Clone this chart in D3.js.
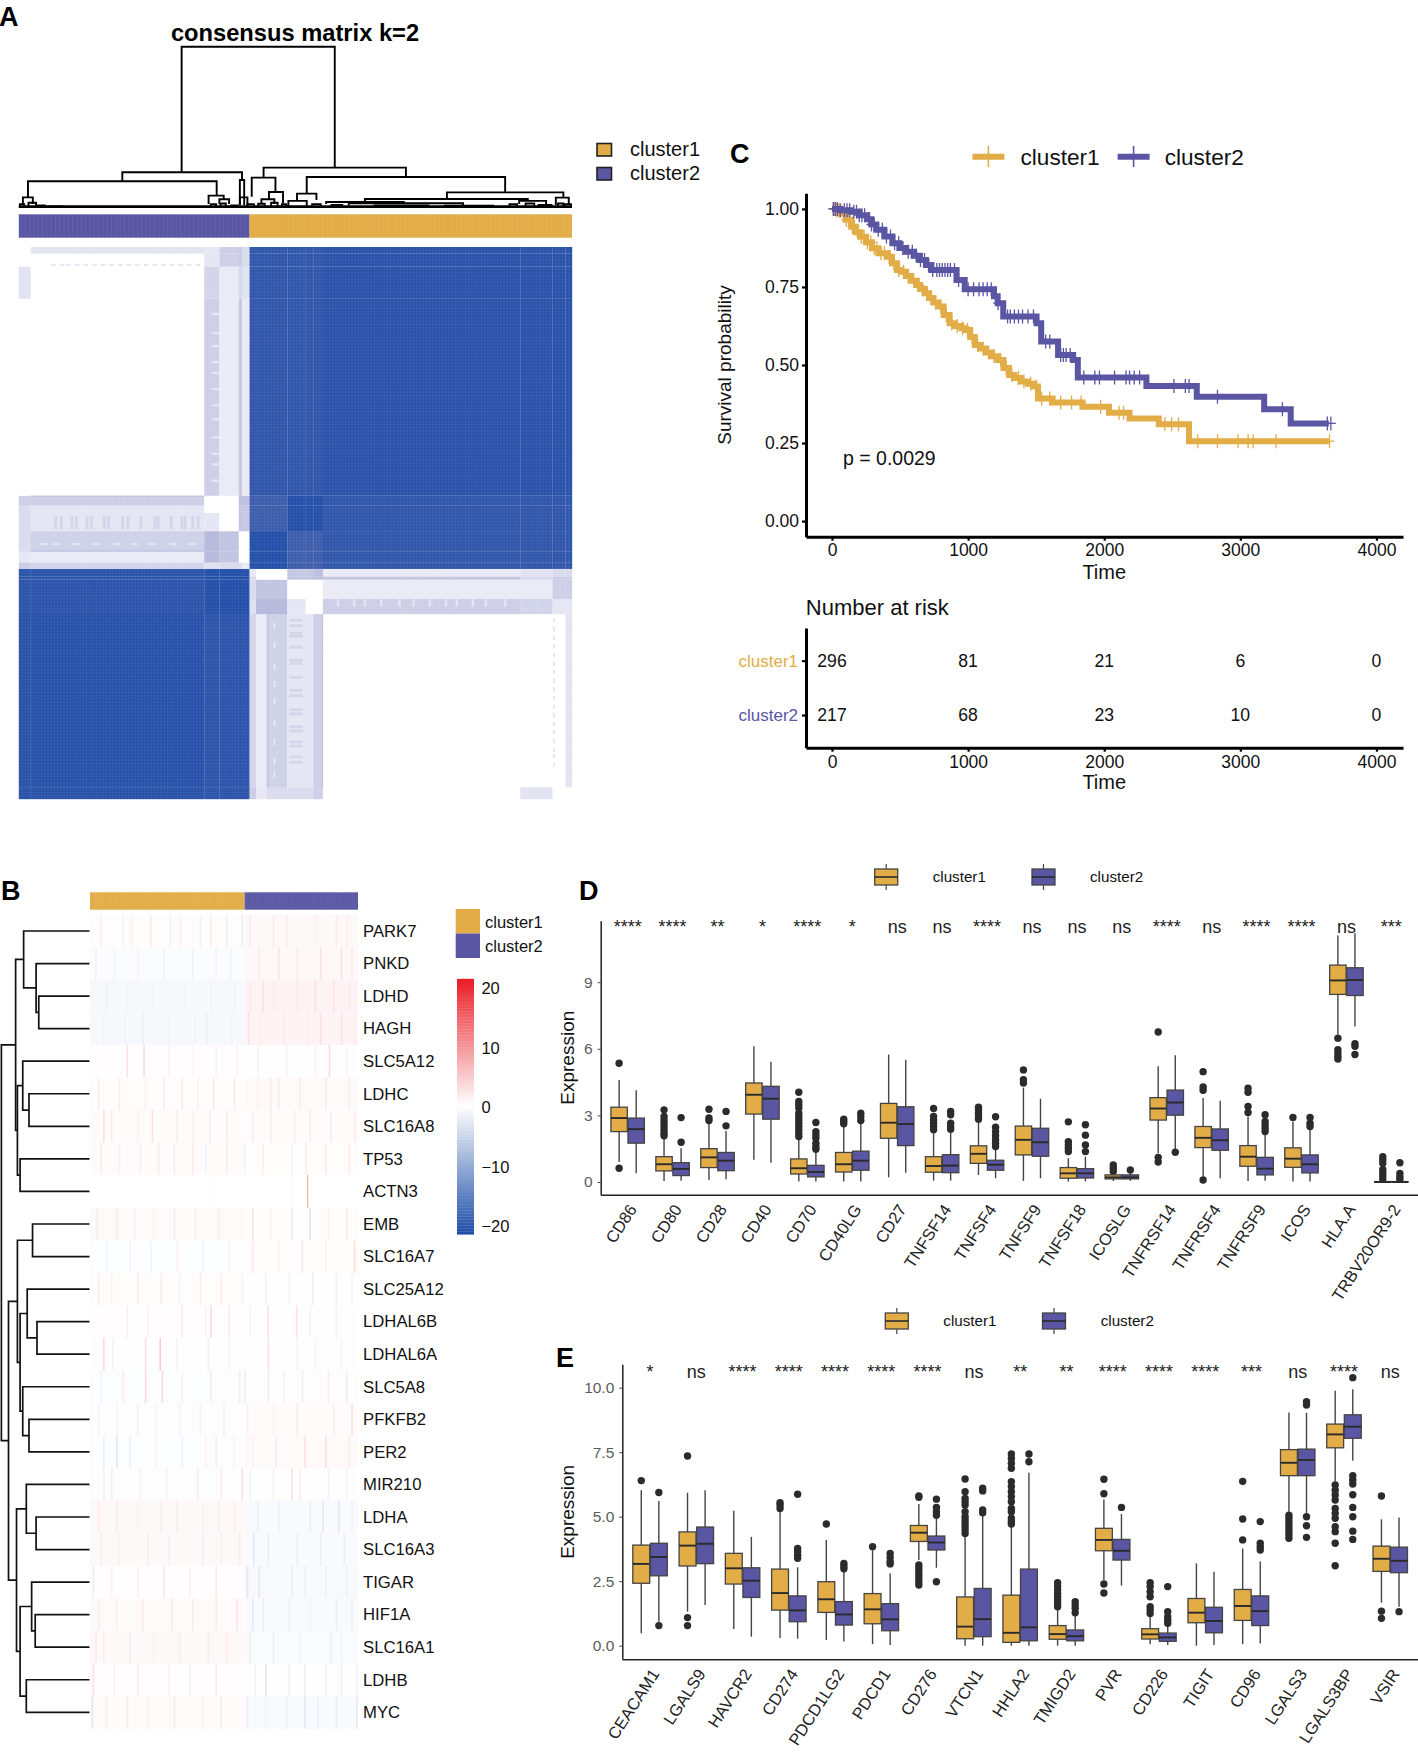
<!DOCTYPE html>
<html><head><meta charset="utf-8">
<script src="https://cdn.jsdelivr.net/npm/d3@7/dist/d3.min.js"></script>
<style>
html,body{margin:0;padding:0;background:#fff}
svg{display:block;font-family:"Liberation Sans",Arial,sans-serif}
</style></head><body><svg id="c" width="1418" height="1752"></svg>
<script>
// ---------- shared
const clusters=["cluster1","cluster2"];
const nSamples=513;
// ---------- panel A: consensus matrix (symmetric, in sample order)
const breaksLow=[0,11,172,186,204,207,214];
const breaksHigh=[214,220,230,249,266,273,282,465,495,507,513];
// consensus between low groups (rows) and high groups (columns)
const consensusCross=[
 [.30,.12,.20,.20,.20,.28,0,.15,0,0],
 [.24,.10,.27,.13,.13,.28,0,0,0,.14],
 [.16,.42,.42,.12,0,0,.28,.25,.12,.12],
 [.20,.35,.35,0,0,0,.10,.10,.28,.28],
 [.20,0,0,.35,.35,.38,.33,.22,.30,.30],
 [.10,0,0,.33,.33,.38,.10,.15,.20,.20]];
const lowClass=[0,0,1,1,1,1];
const highClass=[0,0,0,1,1,1,2,2,2,2];
const lowLevels=[[.97,.94],[.94,1]];
const highLevels=[[1,.8,.9],[.8,1,.9],[.9,.9,.95]];
// mottled details: low from, low to, high from, high to, consensus
const consensusDetail=[
 ...[33,38,48,52,62,66,78,82,95,100,112,125,128,140,150,153,160,165].map(s=>[s,s+2.4,251,263,.25]),
 ...[295,310,320,335,352,365,380,395,405,420,432,450].map(s=>[179,186,s,s+2,.13]),
 ...[30,38,44,52,60,68,76,84,92,100,108,116,124,132,140,148,156,164].map(s=>[s,s+4,495.5,497,.14]),
 ...[20,32,50,68,88,104,120,140,158].map(s=>[s,s+6,236,238,.14]),
 [11,172,230,231.5,.34],[11,172,281,282,.36]];
// dendrogram merges: left sample, right sample, merge height, left child height, right child height
const dendroMerges=[
 [151,293,1,.218,.247],[96,207,.218,.162,.17],[8.5,183.5,.162,.062,.073],[3.8,13,.062,.02,.02],
 [176,190,.073,.02,.05],[186,195,.05,.02,.02],[205,209,.17,.015,.015],[205,212,.062,.015,.015],
 [227,359,.247,.185,.189],[216,238,.185,.066,.095],[232,245,.095,.05,.025],[225,237,.05,.02,.02],
 [267,451,.189,.085,.093],[258,276,.085,.04,.046],[250,267,.04,.004,.004],[397,505,.093,.052,.06],
 [321,472,.052,.033,.04],[285,357,.033,.02,.02],[306,412,.025,.012,.012],[464,489,.04,.02,.02],
 [498,510,.06,.015,.015],[1,5,.02,0,0],[9,16,.028,0,0],[17,24,.012,0,0],[26,40,.006,0,0],
 [178,183,.02,0,0],[187,192,.024,0,0],[197,203,.012,0,0],[212,218,.02,0,0],[222,228,.022,0,0],
 [234,240,.028,0,0],[244,248,.02,0,0],[272,280,.02,0,0],[290,300,.015,0,0],[330,380,.012,0,0],
 [395,440,.01,0,0],[455,462,.02,0,0],[470,478,.024,0,0],[482,494,.014,0,0],[500,505,.024,0,0],[506,512,.02,0,0]];
// ---------- panel B: gene heat map
const genes=["PARK7","PNKD","LDHD","HAGH","SLC5A12","LDHC","SLC16A8","TP53","ACTN3","EMB","SLC16A7","SLC25A12","LDHAL6B","LDHAL6A","SLC5A8","PFKFB2","PER2","MIR210","LDHA","SLC16A3","TIGAR","HIF1A","SLC16A1","LDHB","MYC"];
const geneBase=[[.3,.6],[-.4,.7],[-.9,1.1],[-.8,1],[.2,-.1],[.3,.5],[.4,.4],[.4,.3],[0,0],[.5,.3],[-.3,.3],[.3,-.1],[.2,.1],[.1,.1],[-.3,-.2],[-.2,.4],[-.3,.5],[-.2,.1],[.6,-.6],[.6,-.6],[.2,-.7],[.5,-.6],[.6,-.5],[.2,-.1],[.4,-.6]];
const geneStripes=[
 [[20,1.4],[62,-1.4],[78,1.4],[115,2],[152,-1.4],[172,1.4],[210,-1.4],[230,2],[260,-2],[290,-2],[305,2],[350,2],[375,2],[430,1.4],[470,2],[490,1.4]],
 [[10,1.7],[45,-1.4],[90,1.4],[140,-1.4],[195,-1.4],[240,1.4],[268,-1.4],[322,2],[360,2.8],[395,2],[440,2.8],[480,2.8],[500,2]],
 [[30,-1.7],[70,-1.4],[120,-1.4],[180,-1.4],[230,-1.4],[275,-1.4],[305,2],[330,2.8],[350,2],[395,2],[430,2.8],[465,2.8],[495,2]],
 [[25,-1.4],[65,-1.4],[100,-2],[150,-1.4],[200,-1.4],[222,-2],[270,-1.4],[302,2.8],[325,2],[370,2],[415,2],[440,2.8],[480,2.8],[505,2]],
 [[70,2.8],[102,3.5],[150,1.4],[195,1],[240,1.4],[280,1.4],[320,1.4],[375,1.4],[430,1.4],[457,3.5],[490,1]],
 [[15,2],[55,2],[105,1.4],[140,2],[175,2],[205,1.4],[235,2],[275,2],[320,1.4],[345,2],[360,2],[400,2],[450,2],[495,2]],
 [[25,2.8],[40,2],[90,1.4],[118,2.8],[165,2],[195,1.4],[228,2],[260,2],[310,2],[345,2],[390,2],[420,2],[460,2],[505,2]],
 [[20,2],[55,-1.4],[95,-1.4],[130,2],[160,-2],[195,2],[220,-1.4],[260,2],[295,-1.4],[330,1.4],[385,-1.4],[412,2],[450,2],[495,2]],
 [[416,13],[385,.5],[230,.4]],
 [[12,2],[50,2],[85,-1.4],[120,1.4],[160,2],[200,1.4],[245,2],[310,2.8],[345,1.4],[385,-2],[420,-2.8],[455,1.4],[490,2]],
 [[30,-1.4],[75,1.4],[115,-1.4],[165,1.4],[215,-1.4],[265,1.4],[310,2],[360,1.4],[405,2],[450,1.4],[505,2.8]],
 [[15,2],[40,1.4],[90,2],[135,2],[170,-1.4],[210,2],[250,2],[290,1.4],[335,1.4],[380,-1.4],[425,-2],[470,-1.4],[500,1.4]],
 [[70,2],[110,1.4],[175,2],[220,1.4],[230,3.5],[265,2],[305,1.4],[339,2.8],[394,2.8],[420,1.4],[470,1.4]],
 [[25,3.5],[42,1.4],[105,2.8],[133,5],[165,1.4],[225,2],[265,1.4],[340,2.8],[395,1.4],[480,1.4],[430,1.4]],
 [[20,-1.4],[62,2],[105,3.5],[137,3.5],[175,1.4],[230,2],[285,2],[295,-2],[340,2],[370,-1.4],[405,2],[455,2],[490,-2]],
 [[15,-1.4],[50,1.4],[90,-1.4],[125,1.4],[170,-1.4],[210,1.4],[255,2],[300,-1.4],[350,1.4],[395,2],[465,2],[500,2.8]],
 [[25,-2],[50,-2.8],[75,-2],[125,1.4],[175,-1.4],[220,1.4],[240,2],[275,1.4],[310,-1.4],[355,2],[410,2.8],[450,2.8],[495,2]],
 [[25,-1.4],[40,2],[95,1.4],[145,-1.4],[205,2],[250,2],[290,2.8],[305,-1.4],[350,1.4],[385,2.8],[400,2],[455,-1.4],[490,-1.4]],
 [[15,2],[50,2],[90,1.4],[135,2],[165,2],[215,1.4],[245,2],[275,2],[320,-2],[360,-1.4],[420,-2],[445,-2.8],[475,-2.8],[500,-1.4]],
 [[20,2],[55,1.4],[110,2],[150,-1.4],[215,-2],[250,1.4],[285,2],[312,-2.8],[340,-2],[395,-2],[440,-2],[485,-2]],
 [[5,-2],[40,1.4],[90,1.4],[140,2],[190,1.4],[240,2],[300,-2.8],[322,-2.8],[385,-2],[410,-2],[450,-2],[490,-2]],
 [[15,2],[50,1.4],[100,2],[155,2],[195,2],[240,2],[280,2.8],[310,-2.8],[330,-2],[380,-2],[420,-1.4],[470,-2],[500,-2]],
 [[10,2],[25,2],[75,2],[120,1.4],[170,2],[225,2],[260,2],[305,-2],[350,-2],[400,-1.4],[460,-2],[480,-1.4]],
 [[5,2.8],[45,1.4],[90,2],[150,1.4],[190,-1.4],[240,2],[315,-1.4],[335,-2.8],[380,-2],[410,-2],[450,-1.4],[480,2],[510,-1.4]],
 [[3,-2.8],[30,2],[70,2],[110,1.4],[160,2],[215,1.4],[250,2],[300,-2],[335,-1.4],[375,-2],[410,-2.8],[435,-2],[470,-2],[510,-2.8]]];
// nested clustering: [height, left, right]
const geneTree=[.99,
 [.83,
  [.74,"PARK7",[.6,"PNKD",[.57,"LDHD","HAGH"]]],
  [.81,
   [.75,"SLC5A12",[.68,"LDHC","SLC16A8"]],
   [.78,"TP53","ACTN3"]]],
 [.91,
  [.81,
   [.64,"EMB","SLC16A7"],
   [.78,
    [.7,"SLC25A12",[.59,"LDHAL6B","LDHAL6A"]],
    [.75,"SLC5A8",[.68,"PFKFB2","PER2"]]]],
  [.82,
   [.71,"MIR210",[.6,"LDHA","SLC16A3"]],
   [.78,
    [.65,"TIGAR",[.61,"HIF1A","SLC16A1"]],
    [.71,"LDHB","MYC"]]]]];
const legendTicksB=[20,10,0,-10,-20];
// ---------- panel C: survival
const timeC1=[0,30,74,100,141,175,209,250,293,340,410,440,478,510,545,580,620,646,680,713,745,780,820,864,900,950,982,1015,1049,1090,1130,1175,1217,1260,1301,1340,1386,1440,1486,1513,1621,1840,2035,2186,2401,2623,3650];
const survC1=[1,.995,.986,.965,.943,.925,.911,.893,.874,.858,.847,.826,.804,.799,.785,.77,.756,.744,.73,.715,.70,.687,.66,.634,.625,.618,.612,.59,.564,.553,.54,.528,.516,.49,.468,.458,.447,.44,.431,.393,.38,.366,.347,.329,.31,.256,.256];
const timeC2=[0,60,141,200,259,290,326,385,444,495,545,600,646,690,730,881,915,975,1150,1190,1217,1258,1419,1503,1537,1638,1661,1772,1806,2310,2680,3175,3370,3650];
const survC2=[1,.996,.991,.98,.967,.95,.933,.912,.89,.875,.863,.85,.836,.82,.804,.804,.772,.743,.743,.72,.698,.655,.655,.634,.575,.575,.532,.516,.46,.433,.398,.358,.313,.313];
const censorC1=[10,20,35,50,65,85,105,125,150,165,190,215,235,260,285,310,330,360,385,420,455,490,525,560,600,640,665,700,730,760,800,840,880,920,960,995,1030,1070,1110,1150,1190,1240,1280,1320,1370,1410,1460,1500,1540,1600,1680,1760,1830,1974,2109,2142,2445,2495,2546,2687,2832,2983,3057,3094,3262,3655];
const censorC2=[10,25,40,60,90,110,130,160,180,200,220,240,270,290,310,340,370,400,430,460,490,520,560,590,620,650,680,710,740,770,790,810,830,850,870,900,930,1000,1040,1080,1110,1140,1170,1220,1290,1310,1340,1370,1400,1440,1480,1570,1600,1680,1700,1720,1750,1850,1931,1965,2076,2160,2186,2220,2260,2512,2596,2623,2832,3309,3639,3665];
const riskTimes=[0,1000,2000,3000,4000];
const riskC1=[296,81,21,6,0];
const riskC2=[217,68,23,10,0];
// ---------- panel D: box stats [low whisker, q1, median, q3, high whisker, outliers]
const catsD=["CD86","CD80","CD28","CD40","CD70","CD40LG","CD27","TNFSF14","TNFSF4","TNFSF9","TNFSF18","ICOSLG","TNFRSF14","TNFRSF4","TNFRSF9","ICOS","HLA.A","TRBV20OR9-2"];
const sigD=["****","****","**","*","****","*","ns","ns","****","ns","ns","ns","****","ns","****","****","ns","***"];
const boxD1=[
 [.9,2.27,2.88,3.37,4.6,[5.35,.62]],
 [.05,.5,.8,1.14,2.05,[3.25,2.95,2.8,2.65,2.5,2.35,2.2,2.08]],
 [.09,.65,1.11,1.5,2.65,[3.28,2.88,2.77]],
 [1,3.06,3.93,4.46,6.11,[]],
 [.02,.36,.62,1.04,1.93,[4.04,3.63,3.48,3.33,3.1,2.95,2.8,2.65,2.5,2.35,2.2,2.05]],
 [.02,.45,.8,1.33,2.58,[2.83,2.73,2.62]],
 [.21,1.97,2.67,3.54,5.74,[]],
 [.06,.44,.72,1.14,2.2,[3.31,2.95,2.8,2.65,2.5,2.35]],
 [.32,.84,1.27,1.63,2.73,[3.37,3.25,3.1,2.95,2.83]],
 [.05,1.22,1.9,2.52,4.25,[5.05,4.61,4.46]],
 [.02,.17,.39,.65,1.07,[2.71,1.82,1.67,1.52,1.37]],
 [.05,.14,.21,.32,.42,[.77,.62,.47]],
 [1.3,2.79,3.31,3.8,5.21,[6.76,1.11,.9]],
 [.24,1.55,1.99,2.5,3.78,[4.97,4.28,4.13,.09]],
 [.05,.71,1.14,1.64,2.95,[4.22,4.04,3.4,3.13]],
 [.02,.66,1.05,1.54,2.73,[2.91]],
 [6.64,8.45,9.08,9.77,11.1,[6.48,5.96,5.81,5.66,5.54]],
 [0,0,0,.02,.02,[1.14,1,.85,.57,.42,.27,.12]]];
const boxD2=[
 [.39,1.75,2.38,2.88,4.13,[]],
 [.06,.29,.59,.87,1.52,[2.9,1.79]],
 [.12,.51,.96,1.33,2.3,[3.18,2.53]],
 [.87,2.83,3.75,4.31,5.42,[]],
 [.02,.23,.45,.75,1.37,[2.68,2.27,2.12,1.97,1.75,1.6,1.48]],
 [.02,.53,.96,1.39,2.62,[3.1,2.95,2.77]],
 [.42,1.64,2.61,3.39,5.51,[]],
 [.06,.42,.74,1.23,2.3,[3.18,3.03,2.65,2.5,2.38]],
 [.17,.53,.78,.98,1.52,[2.94,2.47,2.27,2.08,1.9,1.75,1.6]],
 [.17,1.16,1.79,2.42,3.75,[]],
 [.02,.18,.39,.6,1.14,[2.58,2.11,1.67,1.37]],
 [.05,.14,.21,.32,.4,[.54]],
 [1.45,3.01,3.58,4.14,5.71,[1.34]],
 [.17,1.43,1.88,2.39,3.66,[]],
 [.06,.32,.6,1.11,2.2,[3.03,2.73,2.58,2.42,2.27]],
 [.02,.41,.8,1.22,2.35,[2.91,2.65,2.5]],
 [7,8.4,9.1,9.65,11.2,[6.23,6.11,5.74]],
 [0,0,0,.02,.02,[.87,.39,.24,.12]]];
// ---------- panel E
const catsE=["CEACAM1","LGALS9","HAVCR2","CD274","PDCD1LG2","PDCD1","CD276","VTCN1","HHLA2","TMIGD2","PVR","CD226","TIGIT","CD96","LGALS3","LGALS3BP","VSIR"];
const sigE=["*","ns","****","****","****","****","****","ns","**","**","****","****","****","***","ns","****","ns"];
const boxE1=[
 [.48,2.42,3.17,3.9,6.03,[6.4]],
 [1.32,3.09,3.88,4.41,5.93,[7.35,1.09,.78]],
 [.65,2.39,3,3.58,5.23,[]],
 [.3,1.38,2.04,2.97,5.19,[5.54,5.45,5.32]],
 [.22,1.29,1.8,2.48,4.1,[4.72]],
 [.06,.85,1.41,2.02,3.7,[3.84]],
 [3.32,4.04,4.38,4.66,5.49,[5.8,5.75,3.13,3,2.87,2.74,2.61,2.48,2.35]],
 [0,.27,.74,1.89,4.22,[6.46,5.97,5.71,5.58,5.45,5.19,5,4.87,4.74,4.61,4.48,4.35]],
 [0,.13,.5,1.96,4.61,[7.43,7.26,7.07,6.88,6.36,6.17,5.97,5.78,5.58,5.32,5.19,4.94,4.81,4.72]],
 [0,.25,.45,.78,1.38,[2.44,2.29,2.16,2.03,1.9,1.77,1.64,1.51]],
 [2.55,3.68,4.1,4.55,5.67,[6.45,5.89,2.39,2.04]],
 [.06,.26,.44,.66,1.15,[2.44,2.29,2.09,1.9,1.51,1.38,1.25]],
 [0,.89,1.28,1.83,3.19,[]],
 [.06,.98,1.54,2.18,3.77,[6.37,4.91,4.1]],
 [5.19,6.59,7.09,7.6,9.04,[5.06,4.94,4.81,4.68,4.55,4.42,4.29,4.16]],
 [6.36,7.67,8.19,8.59,9.88,[6.23,6.03,5.84,5.65,5.32,5.13,4.94,4.61,4.42,3.97,3.1]],
 [1.67,2.88,3.37,3.86,4.9,[5.8,1.34,1.06]]];
const boxE2=[
 [.93,2.71,3.44,3.97,5.61,[5.94,.78]],
 [1.58,3.18,3.95,4.6,6.03,[]],
 [.35,1.87,2.52,3.02,4.22,[]],
 [.27,.93,1.37,1.93,3.04,[5.87,3.77,3.64,3.51,3.39]],
 [.16,.8,1.21,1.71,2.93,[3.19,3.09,2.98]],
 [.03,.58,1.02,1.63,2.8,[3.58,3.42,3.26,3.17]],
 [3.02,3.71,4,4.25,5,[5.68,5.36,5.19,5.06,2.48]],
 [0,.35,1.03,2.22,5.06,[6.1,6,5.26,5.15]],
 [0,.19,.71,2.97,6.7,[7.43,7.13]],
 [0,.19,.37,.61,1.15,[1.71,1.58,1.45,1.28]],
 [2.33,3.32,3.68,4.12,5.1,[5.36]],
 [.03,.17,.32,.49,.76,[2.29,1.32,1.12,.99,.87]],
 [.03,.5,.96,1.49,2.87,[]],
 [.09,.78,1.34,1.93,3.26,[4.81,3.97,3.84,3.71]],
 [5.13,6.59,7.2,7.62,9.03,[9.46,9.33,5,4.65,4.2]],
 [7.17,8.04,8.49,8.95,9.94,[10.39,6.59,6.42,6.27,5.85,5.36,5,4.44,4.12]],
 [1.51,2.83,3.29,3.82,4.97,[1.32]]];

// ================= drawing ==================
const C1="#E2AD47",C2="#5A56A3";
const clusterColor=d3.scaleOrdinal(clusters,[C1,C2]);
const svg=d3.select("#c");
const txt=(g,s,x,y,size,o={})=>g.append("text").attr("x",x).attr("y",y).attr("font-size",size)
  .attr("fill",o.fill||"#111").attr("text-anchor",o.anchor||"start").attr("font-weight",o.bold?"bold":null)
  .attr("transform",o.rot?`rotate(${o.rot},${x},${y})`:null).text(s);
[["A",-1,26],["B",1,900],["C",730,163],["D",579,900],["E",556,1367]].forEach(d=>txt(svg,d[0],d[1],d[2],27,{bold:true,fill:"#000"}));

// ---- A
(function(){
 const g=svg.append("g");
 const x=d3.scaleLinear([0,nSamples],[18.8,572]);
 const y=d3.scaleLinear([0,nSamples],[799,247]);
 const col=d3.scaleLinear([0,.12,.33,.5,.8,1],["#ffffff","#e6e7f4","#c6c8e3","#a7abd4","#3d5cac","#234fa9"]);
 const groups=[];
 for(let i=0;i<breaksLow.length-1;i++)groups.push([breaksLow[i],breaksLow[i+1]]);
 for(let i=0;i<breaksHigh.length-1;i++)groups.push([breaksHigh[i],breaksHigh[i+1]]);
 const nl=breaksLow.length-1;
 const val=(i,j)=> i<nl&&j<nl?lowLevels[lowClass[i]][lowClass[j]]: i>=nl&&j>=nl?highLevels[highClass[i-nl]][highClass[j-nl]]: i<nl?consensusCross[i][j-nl]:consensusCross[j][i-nl];
 const cells=[];
 groups.forEach((a,i)=>groups.forEach((b,j)=>cells.push({a,b,v:val(i,j)})));
 consensusDetail.forEach(d=>{
  cells.push({a:[d[0],d[1]],b:[d[2],d[3]],v:d[4]});
  cells.push({a:[d[2],d[3]],b:[d[0],d[1]],v:d[4]});
 });
 g.selectAll("rect.c").data(cells).join("rect")
  .attr("x",d=>x(d.b[0])).attr("width",d=>x(d.b[1])-x(d.b[0])+.2)
  .attr("y",d=>y(d.a[1])).attr("height",d=>y(d.a[0])-y(d.a[1])+.2)
  .attr("fill",d=>col(d.v));
 // fine cell mesh of the matrix
 const mesh=d3.range(0,nSamples,3);
 g.selectAll("line.v").data(mesh).join("line").attr("x1",d=>x(d)).attr("x2",d=>x(d)).attr("y1",y(0)).attr("y2",y(nSamples))
  .attr("stroke","#fff").attr("stroke-opacity",.07).attr("stroke-width",.8);
 g.selectAll("line.h").data(mesh).join("line").attr("y1",d=>y(d)).attr("y2",d=>y(d)).attr("x1",x(0)).attr("x2",x(nSamples))
  .attr("stroke","#fff").attr("stroke-opacity",.07).attr("stroke-width",.8);
 // annotation
 const ann=[[0,214,"cluster2"],[214,nSamples,"cluster1"]];
 g.selectAll("rect.a").data(ann).join("rect").attr("x",d=>x(d[0])).attr("width",d=>x(d[1])-x(d[0])).attr("y",214.3).attr("height",23.4).attr("fill",d=>clusterColor(d[2]));
 g.selectAll("line.am").data(d3.range(2,nSamples,4)).join("line").attr("x1",d=>x(d)).attr("x2",d=>x(d)).attr("y1",214.3).attr("y2",237.7).attr("stroke","#fff").attr("stroke-opacity",.07).attr("stroke-width",1);
 // dendrogram
 const h=d3.scaleLinear([0,1],[207.3,46.7]);
 g.selectAll("path.d").data(dendroMerges).join("path").attr("fill","none").attr("stroke","#000").attr("stroke-width",1.9)
  .attr("d",d=>`M${x(d[0])},${h(d[3])}V${h(d[2])}H${x(d[1])}V${h(d[4])}`);
 g.append("line").attr("x1",x(0)).attr("x2",x(nSamples)).attr("y1",h(.004)).attr("y2",h(.004)).attr("stroke","#000").attr("stroke-width",2.8);
 txt(g,"consensus matrix k=2",295,41,23.7,{bold:true,anchor:"middle",fill:"#000"});
 clusters.forEach((c,i)=>{
  g.append("rect").attr("x",597).attr("y",143.5+i*24).attr("width",14.5).attr("height",12.5).attr("fill",clusterColor(c)).attr("stroke","#222").attr("stroke-width",1.6);
  txt(g,c,630,156+i*24,20);
 });
})();

// ---- B
(function(){
 const g=svg.append("g");
 const x=d3.scaleLinear([0,nSamples],[90,358]);
 const y=d3.scaleBand(genes,[914.7,1728.6]);
 const col=d3.scaleLinear([-21.4,0,21.4],["#1f4fa9","#ffffff","#ea1c24"]);
 genes.forEach((n,r)=>{
  const gr=g.append("g");
  const segs=[[0,296,geneBase[r][0]],[296,nSamples,geneBase[r][1]]];
  gr.selectAll("rect.b").data(segs).join("rect").attr("x",d=>x(d[0])).attr("width",d=>x(d[1])-x(d[0])).attr("y",y(n)).attr("height",y.bandwidth()+.2).attr("fill",d=>col(d[2]));
  gr.selectAll("rect.s").data(geneStripes[r]).join("rect").attr("x",d=>x(d[0])).attr("width",d=>n==="ACTN3"&&d[1]>5?.8:x(3)-x(0)).attr("y",y(n)).attr("height",y.bandwidth()+.2).attr("fill",d=>n==="ACTN3"&&d[1]>5?"#ee8a5a":col(d[1]));
  txt(g,n,363,y(n)+y.bandwidth()/2+5.8,16.7,{fill:"#111"});
 });
 const ann=[[0,296,"cluster1"],[296,nSamples,"cluster2"]];
 g.selectAll("rect.a").data(ann).join("rect").attr("x",d=>x(d[0])).attr("width",d=>x(d[1])-x(d[0])).attr("y",892.3).attr("height",17.4).attr("fill",d=>clusterColor(d[2]));
 g.selectAll("line.am").data(d3.range(2,nSamples,4)).join("line").attr("x1",d=>x(d)).attr("x2",d=>x(d)).attr("y1",892.3).attr("y2",909.7).attr("stroke","#fff").attr("stroke-opacity",.07).attr("stroke-width",1);
 // dendrogram
 const parse=a=>typeof a==="string"?{name:a}:{h:a[0],children:[parse(a[1]),parse(a[2])]};
 const root=d3.hierarchy(parse(geneTree));
 const dx=d3.scaleLinear([0,1],[89.5,.5]);
 const cy=y.bandwidth()/2;
 root.eachAfter(n=>{ if(n.children){n.py=d3.mean(n.children,c=>c.py);n.ph=n.data.h;} else {n.py=y(n.data.name)+cy;n.ph=0;} });
 g.selectAll("path.t").data(root.descendants().filter(n=>n.children)).join("path").attr("fill","none").attr("stroke","#111").attr("stroke-width",1.7)
  .attr("d",n=>{const [a,b]=n.children;return `M${dx(a.ph)},${a.py}H${dx(n.ph)}V${b.py}H${dx(b.ph)}`;});
 clusters.forEach((c,i)=>{
  g.append("rect").attr("x",455.7).attr("y",909+i*24.5).attr("width",24.3).attr("height",24.5).attr("fill",clusterColor(c));
  txt(g,c,485,927.5+i*24.3,16.5);
 });
 // colour bar
 const v=d3.scaleLinear([-21.4,21.4],[1234.3,980]);
 g.selectAll("rect.l").data(d3.range(-21.4,21.4,.5)).join("rect").attr("x",457).attr("width",17).attr("y",d=>v(d+.5)).attr("height",d=>v(d)-v(d+.5)+.3).attr("fill",d=>col(d));
 g.selectAll("text.l").data(legendTicksB).join("text").attr("x",481.4).attr("y",d=>v(d)+6).attr("font-size",16.5).attr("fill","#111").text(d=>d<0?"\u2212"+(-d):d);
})();

// ---- C
(function(){
 const g=svg.append("g");
 const x=d3.scaleLinear([-191,4195],[806,1403]);
 const y=d3.scaleLinear([-.05,1.05],[536.7,193.3]);
 const style=a=>{a.selectAll("path.domain").attr("stroke","#000").attr("stroke-width",3);a.selectAll("line").attr("stroke","#000").attr("stroke-width",2.2);a.selectAll("text").attr("fill","#111").attr("font-family","Liberation Sans");};
 const ax=g.append("g").attr("transform","translate(0,536.7)").call(d3.axisBottom(x).tickValues(riskTimes).tickFormat(d3.format("d")).tickSize(4).tickPadding(3).tickSizeOuter(0));
 const ay=g.append("g").attr("transform","translate(806,0)").call(d3.axisLeft(y).tickValues([0,.25,.5,.75,1]).tickFormat(d3.format(".2f")).tickSize(4).tickPadding(3).tickSizeOuter(0));
 style(ax);style(ay);ax.selectAll("text").attr("font-size",17.5);ay.selectAll("text").attr("font-size",17.5);
 const series=[[timeC1,survC1,censorC1,C1],[timeC2,survC2,censorC2,C2]];
 series.forEach(([t,s,cn,c])=>{
  const line=d3.line().curve(d3.curveStepAfter).x(d=>x(d[0])).y(d=>y(d[1]));
  g.append("path").attr("fill","none").attr("stroke",c).attr("stroke-width",6).attr("d",line(t.map((d,i)=>[d,s[i]])));
  const at=d=>s[Math.max(0,d3.bisectRight(t,d)-1)];
  g.selectAll(null).data(cn).join("path").attr("transform",d=>`translate(${x(d)},${y(at(d))})`).attr("d","M-5,0H5M0,-7V7").attr("stroke",c).attr("stroke-width",1.3).attr("fill","none");
 });
 txt(g,"Survival probability",731,365,19,{rot:-90,anchor:"middle"});
 txt(g,"Time",x(2000),579,20,{anchor:"middle"});
 txt(g,"p = 0.0029",843,465,19.5);
 [[972.4,1020.5,C1,"cluster1"],[1117.6,1164.7,C2,"cluster2"]].forEach(d=>{
  g.append("line").attr("x1",d[0]).attr("x2",d[0]+32).attr("y1",156.7).attr("y2",156.7).attr("stroke",d[2]).attr("stroke-width",6);
  g.append("line").attr("x1",d[0]+16).attr("x2",d[0]+16).attr("y1",146).attr("y2",167).attr("stroke",d[2]).attr("stroke-width",1.6);
  txt(g,d[3],d[1],164.5,22.6);
 });
 // risk table
 const ry=d3.scalePoint(clusters,[628,747.7]).padding(.6);
 const bx=g.append("g").attr("transform","translate(0,747.7)").call(d3.axisBottom(x).tickValues(riskTimes).tickFormat(d3.format("d")).tickSize(4).tickPadding(4).tickSizeOuter(0));
 const by=g.append("g").attr("transform","translate(806,0)").call(d3.axisLeft(ry).tickSize(4).tickPadding(4).tickSizeOuter(0));
 style(bx);style(by);bx.selectAll("text").attr("font-size",17.5);
 by.selectAll("text").attr("font-size",17).attr("fill",d=>clusterColor(d));
 txt(g,"Number at risk",805.8,615,22);
 txt(g,"Time",x(2000),789,20,{anchor:"middle"});
 [[riskC1,"cluster1"],[riskC2,"cluster2"]].forEach(([v,c])=>{
  g.selectAll(null).data(v).join("text").attr("x",(d,i)=>x(riskTimes[i])).attr("y",ry(c)+6.4).attr("text-anchor","middle").attr("font-size",17.6).attr("fill","#111").text(d=>d);
 });
})();

// ---- D & E
function boxPanel(o){
 const g=svg.append("g");
 const x=d3.scalePoint(o.cats,[o.x0,o.x1]).padding(.6);
 const y=d3.scaleLinear(o.dom,[o.yb,o.yt]);
 const off=x.step()*.19,w=x.step()*.365;
 const ax=g.append("g").attr("transform",`translate(0,${o.yb})`).call(d3.axisBottom(x).tickSize(0).tickFormat("").tickSizeOuter(0));
 const ay=g.append("g").attr("transform",`translate(${o.x0},0)`).call(d3.axisLeft(y).tickValues(o.ticks).tickFormat(o.fmt).tickSize(3).tickPadding(5).tickSizeOuter(0));
 [ax,ay].forEach(a=>{a.selectAll("path.domain").attr("stroke","#222").attr("stroke-width",1.5);a.selectAll("line").attr("stroke","#444");});
 ay.selectAll("text").attr("font-size",15.5).attr("fill","#5c5c5c").attr("font-family","Liberation Sans");
 o.cats.forEach((c,i)=>{
  g.append("text").attr("text-anchor","end").attr("font-size",16.5).attr("fill","#222")
   .attr("transform",`translate(${x(c)+3},${o.yb+10}) rotate(-57)`).attr("dy","0.5em").text(c);
  const s=o.sig[i];
  g.append("text").attr("x",x(c)).attr("y",o.sigY).attr("text-anchor","middle").attr("font-size",18).attr("fill","#222").text(s);
  [[o.s1[i],-off,C1],[o.s2[i],off,C2]].forEach(([b,dx,col])=>{
   const cx=x(c)+dx;
   g.append("line").attr("x1",cx).attr("x2",cx).attr("y1",y(b[0])).attr("y2",y(b[4])).attr("stroke","#444").attr("stroke-width",1.4);
   g.selectAll(null).data(b[5]).join("circle").attr("cx",cx).attr("cy",d=>y(d)).attr("r",3.7).attr("fill","#2b2b2b");
   g.append("rect").attr("x",cx-w/2).attr("width",w).attr("y",y(b[3])).attr("height",Math.max(.6,y(b[1])-y(b[3]))).attr("fill",col).attr("stroke","#444").attr("stroke-width",1.3);
   g.append("line").attr("x1",cx-w/2).attr("x2",cx+w/2).attr("y1",y(b[2])).attr("y2",y(b[2])).attr("stroke","#2a2a2a").attr("stroke-width",1.9);
  });
 });
 txt(g,"Expression",o.labX,(o.yb+o.yt)/2+o.labDy,19,{rot:-90,anchor:"middle"});
 o.legend.forEach(([kx,tx,col,name])=>{
  const ly=o.legY;
  g.append("line").attr("x1",kx+11.5).attr("x2",kx+11.5).attr("y1",ly-13).attr("y2",ly+13).attr("stroke","#444").attr("stroke-width",1.2);
  g.append("rect").attr("x",kx).attr("width",23).attr("y",ly-8).attr("height",16).attr("fill",col).attr("stroke","#444").attr("stroke-width",1.3);
  g.append("line").attr("x1",kx).attr("x2",kx+23).attr("y1",ly).attr("y2",ly).attr("stroke","#2a2a2a").attr("stroke-width",1.6);
  txt(g,name,tx,ly+5.3,15.2);
 });
}
boxPanel({cats:catsD,sig:sigD,s1:boxD1,s2:boxD2,x0:600.7,x1:1418.3,yb:1194.7,yt:920.7,dom:[-.572,11.77],ticks:[0,3,6,9],fmt:d3.format("d"),sigY:933,labX:574,labDy:0,legY:877,
 legend:[[874.7,932.7,C1,"cluster1"],[1032,1090,C2,"cluster2"]]});
boxPanel({cats:catsE,sig:sigE,s1:boxE1,s2:boxE2,x0:622.3,x1:1418,yb:1659.3,yt:1364.3,dom:[-.527,10.907],ticks:[0,2.5,5,7.5,10],fmt:d3.format(".1f"),sigY:1377.7,labX:574,labDy:0,legY:1321,
 legend:[[885.3,943.3,C1,"cluster1"],[1042.5,1100.7,C2,"cluster2"]]});
</script></body></html>
